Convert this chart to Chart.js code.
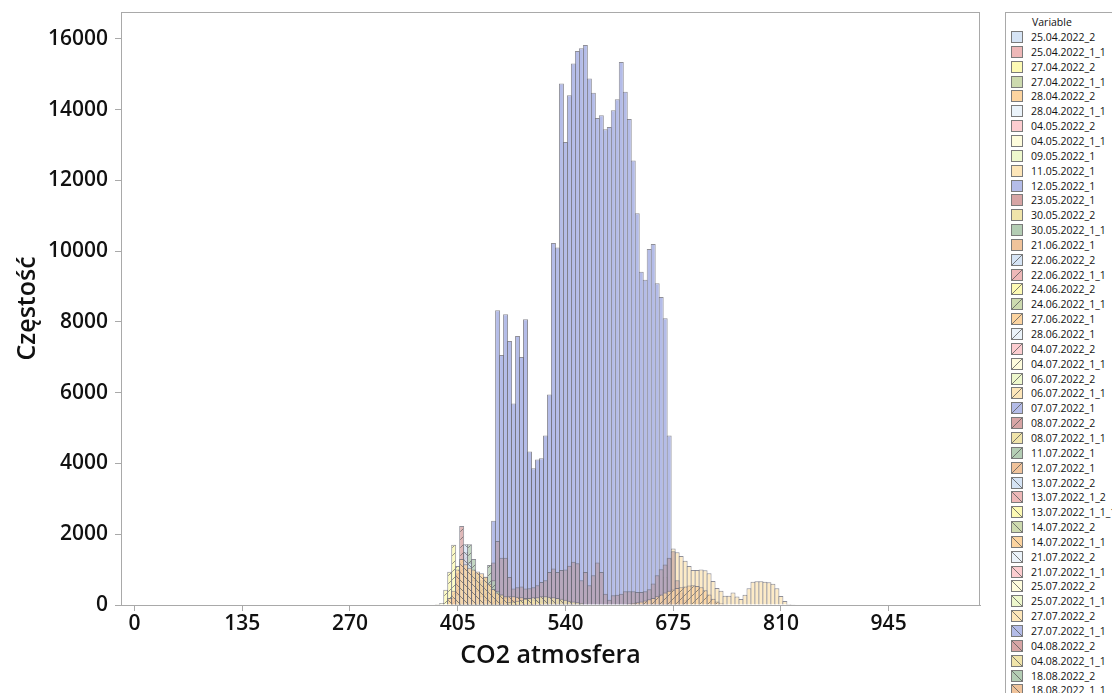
<!DOCTYPE html>
<html><head><meta charset="utf-8">
<script src="https://cdn.jsdelivr.net/npm/chart.js@4.4.0/dist/chart.umd.min.js"></script>
<style>
html,body{margin:0;padding:0;background:#fff;}
#wrap{position:relative;width:1112px;height:693px;overflow:hidden;}
#chart{position:absolute;left:0;top:0;}
#legend{position:absolute;left:1005px;top:12px;width:140px;height:700px;border:1px solid #a9a9a9;box-sizing:border-box;font-family:"Open Sans",sans-serif;font-size:10.5px;color:#111;background:#fff;}
#legend .ttl{position:absolute;left:26px;top:2px;line-height:14px;}
#legend .row{position:absolute;left:5px;height:14px;line-height:14px;white-space:nowrap;}
#legend canvas{position:absolute;left:0;top:1px;}
#legend span{position:absolute;left:20px;top:0;}
</style></head>
<body>
<div id="wrap">
<canvas id="chart" width="1112" height="693"></canvas>
<div id="legend"><div class="ttl">Variable</div></div>
</div>
<script>
const BIN_WIDTH = 5;
const xTickValues = [0, 135, 270, 405, 540, 675, 810, 945];
const yTickValues = [0, 2000, 4000, 6000, 8000, 10000, 12000, 14000, 16000];

const seriesNames = [
 '25.04.2022_2','25.04.2022_1_1','27.04.2022_2','27.04.2022_1_1','28.04.2022_2','28.04.2022_1_1',
 '04.05.2022_2','04.05.2022_1_1','09.05.2022_1','11.05.2022_1','12.05.2022_1','23.05.2022_1',
 '30.05.2022_2','30.05.2022_1_1','21.06.2022_1','22.06.2022_2','22.06.2022_1_1','24.06.2022_2',
 '24.06.2022_1_1','27.06.2022_1','28.06.2022_1','04.07.2022_2','04.07.2022_1_1','06.07.2022_2',
 '06.07.2022_1_1','07.07.2022_1','08.07.2022_2','08.07.2022_1_1','11.07.2022_1','12.07.2022_1',
 '13.07.2022_2','13.07.2022_1_2','13.07.2022_1_1_1','14.07.2022_2','14.07.2022_1_1','21.07.2022_2',
 '21.07.2022_1_1','25.07.2022_2','25.07.2022_1_1','27.07.2022_2','27.07.2022_1_1','04.08.2022_2',
 '04.08.2022_1_1','18.08.2022_2','18.08.2022_1_1'
];
const paletteColors = [
 [214,228,245],[238,184,184],[253,250,180],[205,218,175],[252,212,160],[235,243,250],
 [252,205,208],[254,252,220],[238,248,205],[253,230,185],[180,188,232],[215,165,165],
 [240,228,170],[180,205,180],[240,195,155]
];

// bin values (counts), first bin centre given separately
const start_12_05_2022_1 = 450;
const vals_12_05_2022_1 = [2383, 8332, 7064, 8218, 7461, 5693, 7603, 7007, 8076, 4340,
 3868, 4113, 4151, 4794, 5948, 10232, 10109, 14742, 13088, 14411,
 15310, 15660, 15735, 15830, 14884, 14477, 13768, 13844, 13447, 13513,
 13986, 14298, 15348, 14506, 13740, 12567, 11073, 9418, 9191, 10062,
 10204, 9098, 8709, 8105, 4794];
const start_23_05_2022_1 = 450;
const vals_23_05_2022_1 = [1200, 1806, 1333, 1333, 794, 463, 500, 520, 463, 470,
 500, 558, 652, 700, 936, 1030, 936, 990, 1000, 1106,
 1220, 1180, 700, 936, 558, 842, 1200, 936, 321, 151,
 274, 290, 320, 388, 388, 388, 370, 370, 388, 444,
 605, 842, 1012, 1144, 1333, 1522, 700, 350, 150];
const start_11_05_2022_1 = 660;
const vals_11_05_2022_1 = [300, 800, 1300, 1600, 1490, 1385, 1250, 1100, 990, 990,
 1000, 980, 900, 680, 480, 400, 260, 260, 350, 240,
 170, 290, 470, 660, 670, 670, 660, 640, 600, 470,
 254, 113, 30, 10];
const start_27_06_2022_1 = 620;
const vals_27_06_2022_1 = [40, 60, 80, 100, 130, 160, 200, 250, 300, 350, 400, 440, 480,
 500, 520, 550, 560, 540, 500, 420, 300, 180, 100, 50, 20];
const start_24_06_2022_2 = 380;
const vals_24_06_2022_2 = [30, 60, 430, 940, 1700, 1100, 800, 600, 450, 350, 280, 200, 160,
 130, 110, 100, 90, 80, 70, 60, 50];
const start_08_07_2022_2 = 400;
const vals_08_07_2022_2 = [200, 900, 2230, 1500, 1000, 800, 650, 520, 420, 350, 300, 280,
 260, 220, 180, 150, 120, 100, 80, 60, 50];
const start_11_07_2022_1 = 405;
const vals_11_07_2022_1 = [300, 600, 1000, 1720, 1300, 900, 700, 800, 1130, 700, 400, 300, 200, 150, 100];
const start_13_07_2022_2 = 405;
const vals_13_07_2022_2 = [300, 900, 1720, 1200, 700, 400, 250, 150, 100];
const start_14_07_2022_1_1 = 395;
const vals_14_07_2022_1_1 = [200, 400, 1000, 1300, 1150, 1050, 1000, 950, 900, 800, 600, 450,
 350, 300, 250, 250, 250, 230, 220, 200, 180, 150, 120, 100];
const start_04_08_2022_1_1 = 470;
const vals_04_08_2022_1_1 = [80, 100, 120, 150, 180, 200, 220, 220, 250, 250, 230, 220, 200,
 180, 150, 120, 100, 80, 60];

const seriesBins = {
 '12.05.2022_1': [start_12_05_2022_1, vals_12_05_2022_1],
 '23.05.2022_1': [start_23_05_2022_1, vals_23_05_2022_1],
 '11.05.2022_1': [start_11_05_2022_1, vals_11_05_2022_1],
 '27.06.2022_1': [start_27_06_2022_1, vals_27_06_2022_1],
 '24.06.2022_2': [start_24_06_2022_2, vals_24_06_2022_2],
 '08.07.2022_2': [start_08_07_2022_2, vals_08_07_2022_2],
 '11.07.2022_1': [start_11_07_2022_1, vals_11_07_2022_1],
 '13.07.2022_2': [start_13_07_2022_2, vals_13_07_2022_2],
 '14.07.2022_1_1': [start_14_07_2022_1_1, vals_14_07_2022_1_1],
 '04.08.2022_1_1': [start_04_08_2022_1_1, vals_04_08_2022_1_1]
};
const seriesAlpha = { '12.05.2022_1': 1, '23.05.2022_1': 0.55, '11.05.2022_1': 0.8 };
const seriesFillOverride = { '23.05.2022_1': [185,150,152] };

const canvas = document.getElementById('chart');
const mainCtx = canvas.getContext('2d');

function rgba(c, a) { return 'rgba(' + c[0] + ',' + c[1] + ',' + c[2] + ',' + a + ')'; }
function hatchKind(i) { return Math.floor(i / 15); }
function drawHatch(g, size, kind) {
  g.beginPath();
  if (kind === 1) {
    for (let o = -size; o <= size; o += size) { g.moveTo(o, size); g.lineTo(o + size, 0); }
  } else if (kind === 2) {
    for (let o = -size; o <= size; o += size) { g.moveTo(o, 0); g.lineTo(o + size, size); }
  }
  g.stroke();
}
function makeFill(i, name, alpha) {
  const col = seriesFillOverride[name] || paletteColors[i % 15];
  const kind = hatchKind(i);
  if (kind === 0) return rgba(col, alpha);
  const c = document.createElement('canvas');
  c.width = c.height = 8;
  const g = c.getContext('2d');
  g.fillStyle = rgba(col, alpha);
  g.fillRect(0, 0, 8, 8);
  g.strokeStyle = 'rgba(80,80,80,0.6)';
  g.lineWidth = 1;
  drawHatch(g, 8, kind);
  return mainCtx.createPattern(c, 'repeat');
}

const datasets = [];
seriesNames.forEach((name, i) => {
  const entry = seriesBins[name];
  if (!entry) return;
  const [start, vals] = entry;
  const alpha = seriesAlpha[name] !== undefined ? seriesAlpha[name] : 0.8;
  datasets.push({
    label: name,
    data: vals.map((v, k) => ({ x: start + k * BIN_WIDTH, y: v })),
    backgroundColor: makeFill(i, name, alpha),
    borderColor: 'rgba(105,105,118,0.75)',
    borderWidth: 1,
    order: -i
  });
});

// legend (HTML)
const legend = document.getElementById('legend');
seriesNames.forEach((name, i) => {
  const row = document.createElement('div');
  row.className = 'row';
  row.style.top = (17 + i * 14.85) + 'px';
  const sw = document.createElement('canvas');
  sw.width = 12; sw.height = 12;
  const g = sw.getContext('2d');
  g.fillStyle = rgba(paletteColors[i % 15], 1);
  g.fillRect(0, 0, 12, 12);
  g.strokeStyle = 'rgba(90,90,90,0.8)';
  g.lineWidth = 1;
  drawHatch(g, 12, hatchKind(i));
  g.strokeStyle = '#7a7a7a';
  g.strokeRect(0.5, 0.5, 11, 11);
  const sp = document.createElement('span');
  sp.textContent = name;
  row.appendChild(sw); row.appendChild(sp);
  legend.appendChild(row);
});

const framePlugin = {
  id: 'frame',
  afterDraw(chart) {
    const a = chart.chartArea, c = chart.ctx;
    c.save();
    c.strokeStyle = '#a9a9a9';
    c.lineWidth = 1;
    c.strokeRect(Math.round(a.left) + 0.5, Math.round(a.top) + 0.5, Math.round(a.right - a.left) - 1, Math.round(a.bottom - a.top));
    c.restore();
  }
};

const tickFont = { family: 'Open Sans', size: 21, weight: '600' };
const titleFont = { family: 'Open Sans', size: 25, weight: '600' };

function zeroPad(s) { s.paddingTop = 0; s.paddingBottom = 0; s.paddingLeft = 0; s.paddingRight = 0; }

new Chart(mainCtx, {
  type: 'bar',
  data: { datasets },
  options: {
    responsive: false,
    animation: false,
    layout: { padding: { left: 0, top: 12, right: 132, bottom: 0 } },
    datasets: { bar: { grouped: false, barPercentage: 1.25, categoryPercentage: 1 } },
    plugins: { legend: { display: false }, tooltip: { enabled: false } },
    scales: {
      x: {
        type: 'linear', min: -16.9, max: 1059.5, offset: false,
        afterBuildTicks: s => { s.ticks = xTickValues.map(v => ({ value: v })); },
        ticks: { font: tickFont, color: '#111', padding: 0, maxRotation: 0, autoSkip: false, callback: v => String(v) },
        grid: { offset: false, drawOnChartArea: false, drawTicks: true, tickLength: 6, color: '#a9a9a9' },
        border: { color: '#a9a9a9' },
        title: { display: true, text: 'CO2 atmosfera', font: titleFont, color: '#111', padding: { top: 0, bottom: 22 } },
        afterFit: s => { s.height = 88; zeroPad(s); }
      },
      y: {
        min: 0, max: 16763,
        afterBuildTicks: s => { s.ticks = yTickValues.map(v => ({ value: v })); },
        ticks: { font: tickFont, color: '#111', padding: 7, callback: v => String(v) },
        grid: { drawOnChartArea: false, drawTicks: true, tickLength: 6, color: '#a9a9a9' },
        border: { color: '#a9a9a9' },
        title: { display: true, text: 'Częstość', font: titleFont, color: '#111', padding: { top: 13, bottom: 0 } },
        afterFit: s => { s.width = 121; zeroPad(s); }
      }
    }
  },
  plugins: [framePlugin]
});
</script>
</body></html>
